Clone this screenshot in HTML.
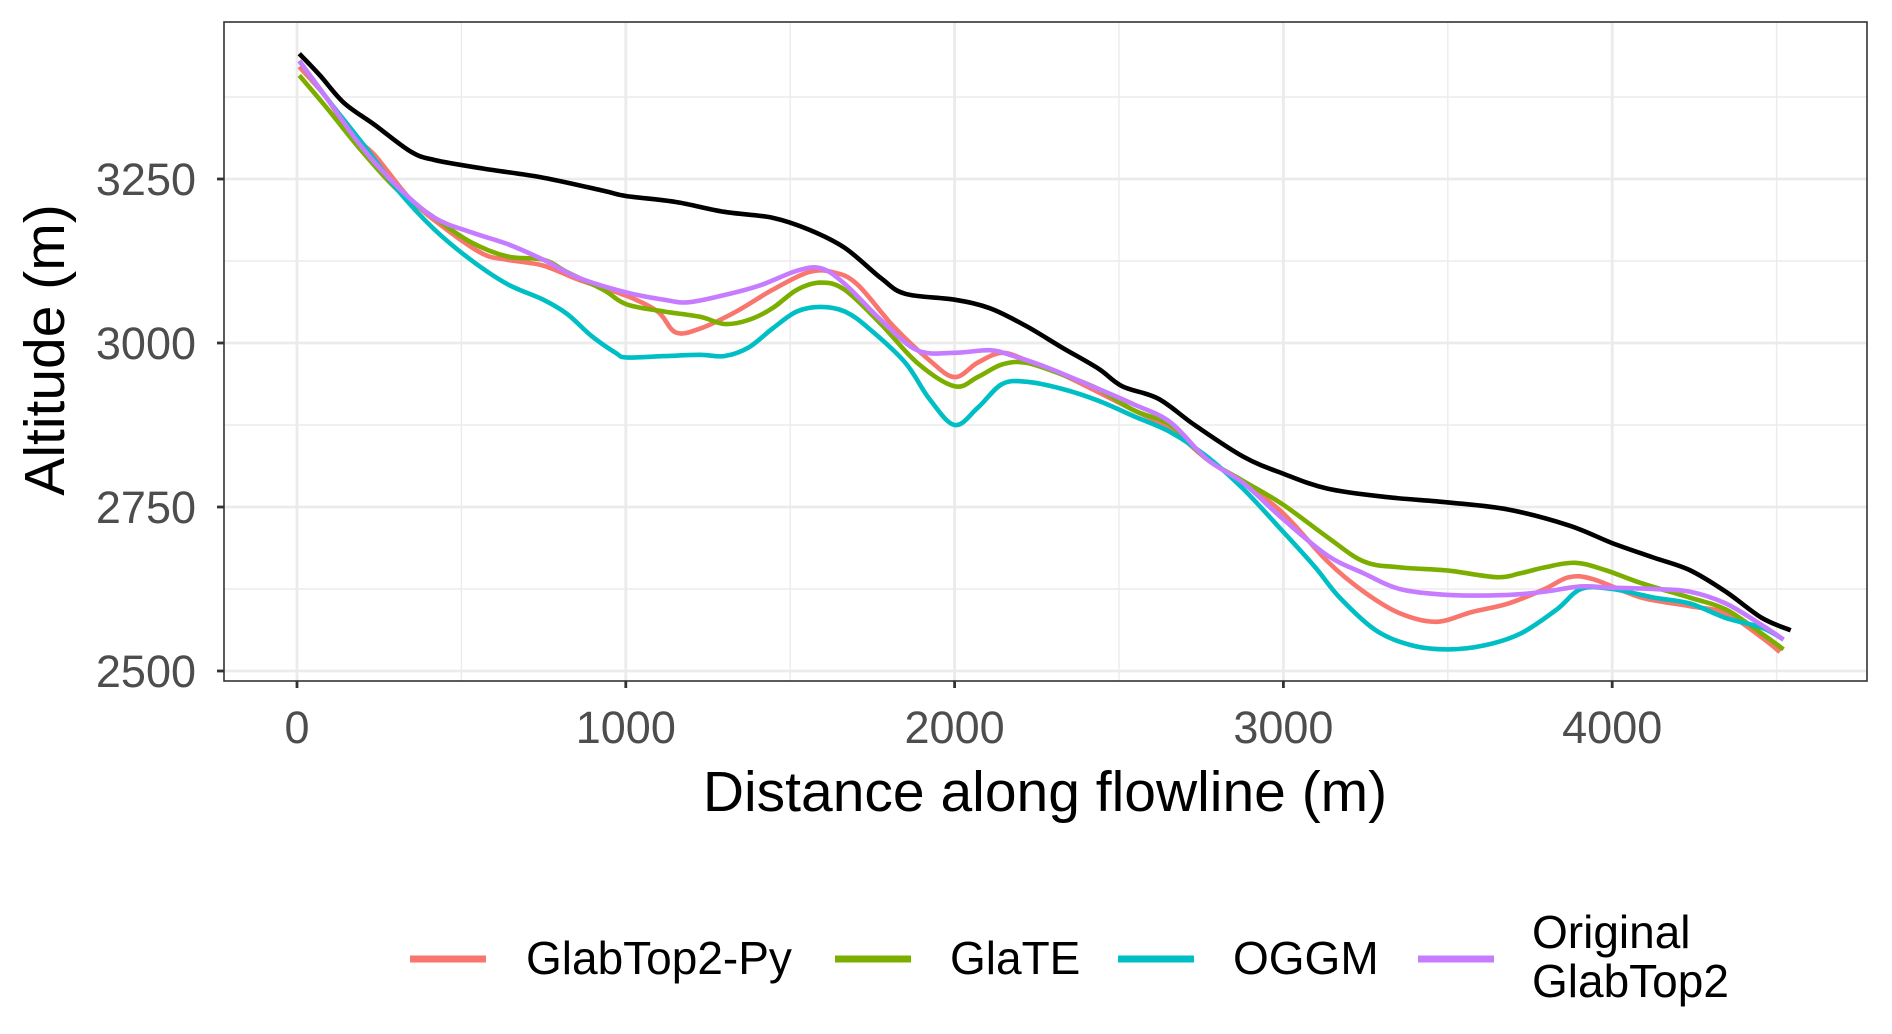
<!DOCTYPE html>
<html><head><meta charset="utf-8"><style>
html,body{margin:0;padding:0;background:#fff;}
svg{display:block;font-family:"Liberation Sans",Arial,sans-serif;}
</style></head><body>
<svg id="chart" width="1892" height="1034" viewBox="0 0 1892 1034" xmlns="http://www.w3.org/2000/svg">
<rect x="224" y="22" width="1643" height="659" fill="#fff"/>
<g id="grid"></g>
<g id="series"></g>
<rect x="224" y="22" width="1643" height="659" fill="none" stroke="#333" stroke-width="1.6"/>
<g id="axes"></g>
<text x="1045" y="811" font-size="57" text-anchor="middle" fill="#000">Distance along flowline (m)</text>
<text x="0" y="0" font-size="57" text-anchor="middle" fill="#000" transform="translate(64,350) rotate(-90)">Altitude (m)</text>
<g>
<line x1="410" y1="959" x2="486" y2="959" stroke="#F8766D" stroke-width="7"/>
<text x="526" y="974" font-size="46">GlabTop2-Py</text>
<line x1="835" y1="959" x2="911" y2="959" stroke="#7CAE00" stroke-width="7"/>
<text x="950" y="974" font-size="46">GlaTE</text>
<line x1="1118" y1="959" x2="1194" y2="959" stroke="#00BFC4" stroke-width="7"/>
<text x="1233" y="974" font-size="46">OGGM</text>
<line x1="1418" y1="959" x2="1494" y2="959" stroke="#C77CFF" stroke-width="7"/>
<text x="1532" y="948" font-size="46">Original</text>
<text x="1532" y="997" font-size="46">GlabTop2</text>
</g>
</svg>
<script>
const xTicks = [0, 1000, 2000, 3000, 4000];
const xMinor = [500, 1500, 2500, 3500, 4500];
const yTicks = [2500, 2750, 3000, 3250];
const yMinor = [2625, 2875, 3125, 3375];
const surfDist = [7,70,143,235,345,418,565,749,932,1002,1152,1299,1446,1556,1666,1776,1850,2000,2107,2217,2327,2437,2510,2620,2730,2877,2998,3134,3318,3501,3685,3868,4000,4125,4235,4345,4455,4543];
const surfAlt = [3441,3408,3366,3333,3292,3279,3266,3252,3232,3224,3215,3200,3191,3173,3145,3099,3075,3066,3053,3026,2993,2961,2934,2915,2875,2827,2801,2778,2765,2757,2746,2722,2695,2673,2654,2621,2581,2562];
const pyDist = [7,88,161,235,345,455,565,638,749,859,1002,1097,1152,1226,1336,1446,1556,1630,1703,1813,1923,2000,2070,2143,2217,2327,2437,2547,2657,2767,2877,2998,3134,3244,3354,3464,3574,3685,3795,3868,3942,4088,4235,4345,4455,4510];
const pyAlt = [3421,3375,3320,3287,3219,3173,3136,3127,3118,3096,3072,3048,3016,3022,3048,3081,3108,3108,3090,3026,2974,2948,2970,2985,2974,2952,2925,2897,2869,2823,2787,2741,2667,2621,2588,2575,2590,2603,2625,2643,2640,2612,2599,2588,2551,2529];
const teDist = [7,88,198,308,418,528,639,749,822,932,1002,1116,1226,1299,1373,1446,1520,1593,1666,1776,1886,2000,2070,2143,2217,2327,2437,2547,2657,2767,2877,2998,3134,3244,3354,3501,3648,3721,3795,3887,3978,4088,4235,4345,4455,4521];
const teAlt = [3408,3360,3292,3232,3191,3154,3132,3127,3108,3081,3059,3048,3040,3029,3035,3053,3081,3092,3081,3029,2970,2934,2948,2967,2970,2952,2930,2897,2875,2823,2790,2754,2704,2667,2658,2653,2643,2649,2658,2665,2654,2634,2612,2594,2557,2533];
const ogDist = [7,88,198,308,418,528,639,749,822,895,969,1002,1116,1226,1299,1373,1446,1520,1593,1666,1740,1850,1923,2000,2070,2143,2217,2327,2437,2547,2657,2767,2877,2998,3097,3171,3281,3391,3501,3611,3721,3832,3905,4000,4125,4235,4345,4455,4521];
const ogAlt = [3430,3375,3305,3232,3173,3127,3090,3066,3044,3011,2985,2978,2980,2982,2980,2993,3022,3048,3055,3048,3022,2970,2915,2875,2901,2937,2941,2930,2912,2888,2864,2827,2778,2713,2658,2612,2562,2539,2533,2539,2557,2594,2625,2625,2612,2603,2581,2566,2548];
const orDist = [7,88,198,308,418,528,639,749,859,1002,1116,1189,1299,1409,1520,1593,1666,1776,1886,2000,2107,2180,2290,2437,2547,2657,2767,2877,2998,3134,3244,3354,3501,3685,3795,3905,4000,4125,4235,4345,4455,4521];
const orAlt = [3430,3375,3298,3237,3191,3169,3151,3127,3099,3077,3066,3062,3073,3088,3110,3114,3090,3035,2989,2985,2989,2980,2961,2930,2906,2879,2823,2787,2732,2676,2649,2625,2616,2616,2621,2629,2627,2625,2621,2603,2570,2548];

const NS='http://www.w3.org/2000/svg';
function xs(v){return 297 + v*0.3288;}
function ys(v){return 671 - (v-2500)*0.656;}
function mk(tag, attrs, parent){const e=document.createElementNS(NS,tag);for(const k in attrs)e.setAttribute(k,attrs[k]);parent.appendChild(e);return e;}
const grid=document.getElementById('grid'), axes=document.getElementById('axes'), series=document.getElementById('series');
xMinor.forEach(v=>{const l=mk('line',{x1:xs(v),x2:xs(v),y1:22,y2:681,stroke:'#EBEBEB','stroke-width':1.4},grid);

});
yMinor.forEach(v=>{const l=mk('line',{x1:224,x2:1867,y1:ys(v),y2:ys(v),stroke:'#EBEBEB','stroke-width':1.4},grid);

});
xTicks.forEach(v=>{const l=mk('line',{x1:xs(v),x2:xs(v),y1:22,y2:681,stroke:'#EBEBEB','stroke-width':2.8},grid);


const t=mk('line',{x1:xs(v),x2:xs(v),y1:681,y2:688,stroke:'#333','stroke-width':2.8},axes);


const tx=mk('text',{x:xs(v),y:743,'font-size':45,'text-anchor':'middle',fill:'#4D4D4D'},axes);tx.textContent=v;

});
yTicks.forEach(v=>{const l=mk('line',{x1:224,x2:1867,y1:ys(v),y2:ys(v),stroke:'#EBEBEB','stroke-width':2.8},grid);


const t=mk('line',{x1:217,x2:224,y1:ys(v),y2:ys(v),stroke:'#333','stroke-width':2.8},axes);


const tx=mk('text',{x:196,y:ys(v)+16,'font-size':45,'text-anchor':'end',fill:'#4D4D4D'},axes);tx.textContent=v;

});
function pathD(dx,dy){const p=dx.map((d,i)=>[xs(d),ys(dy[i])]);let s='M'+p[0][0].toFixed(1)+','+p[0][1].toFixed(1);
for(let i=0;i<p.length-1;i++){const p0=p[Math.max(0,i-1)],p1=p[i],p2=p[i+1],p3=p[Math.min(p.length-1,i+2)];
const c1=[p1[0]+(p2[0]-p0[0])/6,p1[1]+(p2[1]-p0[1])/6],c2=[p2[0]-(p3[0]-p1[0])/6,p2[1]-(p3[1]-p1[1])/6];
s+=' C'+c1[0].toFixed(1)+','+c1[1].toFixed(1)+' '+c2[0].toFixed(1)+','+c2[1].toFixed(1)+' '+p2[0].toFixed(1)+','+p2[1].toFixed(1);}return s;}
function draw(dx,dy,color,name){const e=mk('path',{d:pathD(dx,dy),fill:'none',stroke:color,'stroke-width':4.6,'stroke-linejoin':'round','stroke-linecap':'butt'},series);

}
draw(pyDist,pyAlt,'#F8766D','line-glabtop2-py');
draw(teDist,teAlt,'#7CAE00','line-glate');
draw(ogDist,ogAlt,'#00BFC4','line-oggm');
draw(orDist,orAlt,'#C77CFF','line-original-glabtop2');
draw(surfDist,surfAlt,'#000000','line-surface');
</script>
</body></html>
